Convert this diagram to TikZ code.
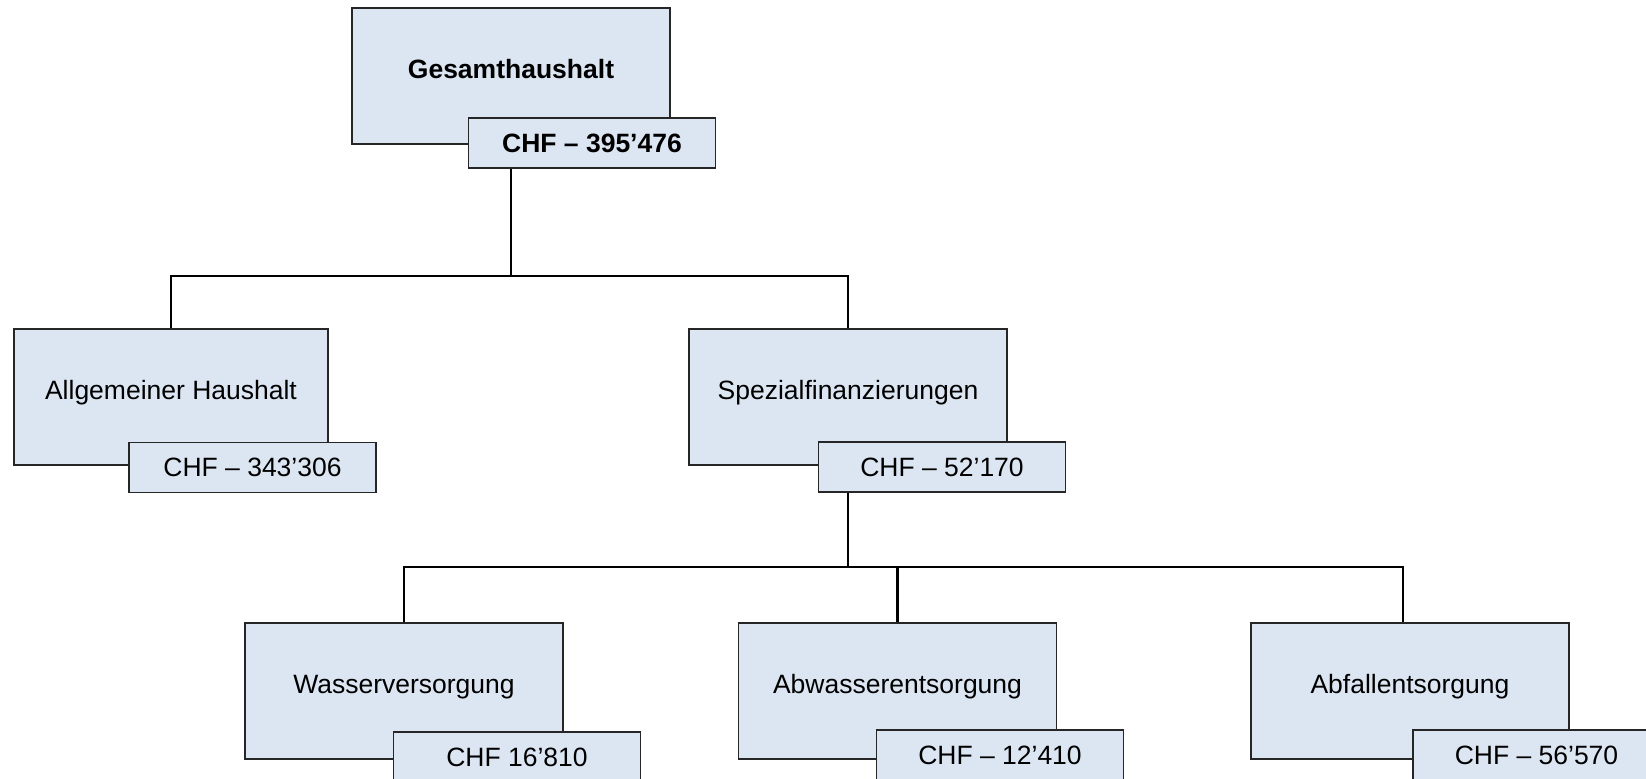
\documentclass[tikz,border=0pt]{standalone}
\usepackage{fontspec}
\setmainfont{Liberation Sans}
\definecolor{kastenblau}{HTML}{DCE6F2}
\tikzset{
  hauptbox/.style={draw=black!85, line width=0.75pt, fill=kastenblau,
    minimum width=159pt, minimum height=68pt, inner sep=0pt,
    font=\fontsize{13.25}{16}\selectfont, text height=9.5pt, text depth=7pt},
  chfbox/.style={draw=black!85, line width=0.75pt, fill=kastenblau,
    minimum width=123.5pt, minimum height=25pt, inner sep=0pt,
    font=\fontsize{13.25}{16}\selectfont, text height=9.5pt, text depth=-1pt},
  ast/.style={line width=1.3pt}
}
\begin{document}
\begin{tikzpicture}[x=0.5pt,y=-0.5pt]
\useasboundingbox (0,0) rectangle (1646,779);

% 顶层
\node[hauptbox] (gesamt) at (511,76) {\textbf{Gesamthaushalt}};
\node[chfbox] (gesamtchf) at (592,143) {\textbf{CHF – 395’476}};

% 第二层
\node[hauptbox, minimum width=157pt] (allg) at (171,397) {Allgemeiner Haushalt};
\node[chfbox] (allgchf) at (252.5,467.5) {CHF – 343’306};
\node[hauptbox] (spez) at (848,397) {Spezialfinanzierungen};
\node[chfbox] (spezchf) at (942,467) {CHF – 52’170};

% 第三层
\node[hauptbox] (wasser) at (404,691) {Wasserversorgung};
\node[chfbox] (wasserchf) at (517,757) {CHF 16’810};
\node[hauptbox] (abwasser) at (897.5,691) {Abwasserentsorgung};
\node[chfbox] (abwasserchf) at (1000,755) {CHF – 12’410};
\node[hauptbox] (abfall) at (1410,691) {Abfallentsorgung};
\node[chfbox] (abfallchf) at (1536.5,755) {CHF – 56’570};

% 连接线
\coordinate (k1) at (511,276);
\coordinate (k2) at (848,567);
\draw[ast] (gesamtchf.south -| gesamt.center) -- (k1);
\draw[ast] (allg.north) -- (allg.north |- k1) -- (spez.north |- k1) -- (spez.north);
\draw[ast] (spezchf.south -| spez.center) -- (k2);
\draw[ast] (wasser.north) -- (wasser.north |- k2) -- ([xshift=-3.5pt]abfall.north |- k2) -- ([xshift=-3.5pt]abfall.north);
\draw[ast] (abwasser.north |- k2) -- (abwasser.north);
\end{tikzpicture}
\end{document}
